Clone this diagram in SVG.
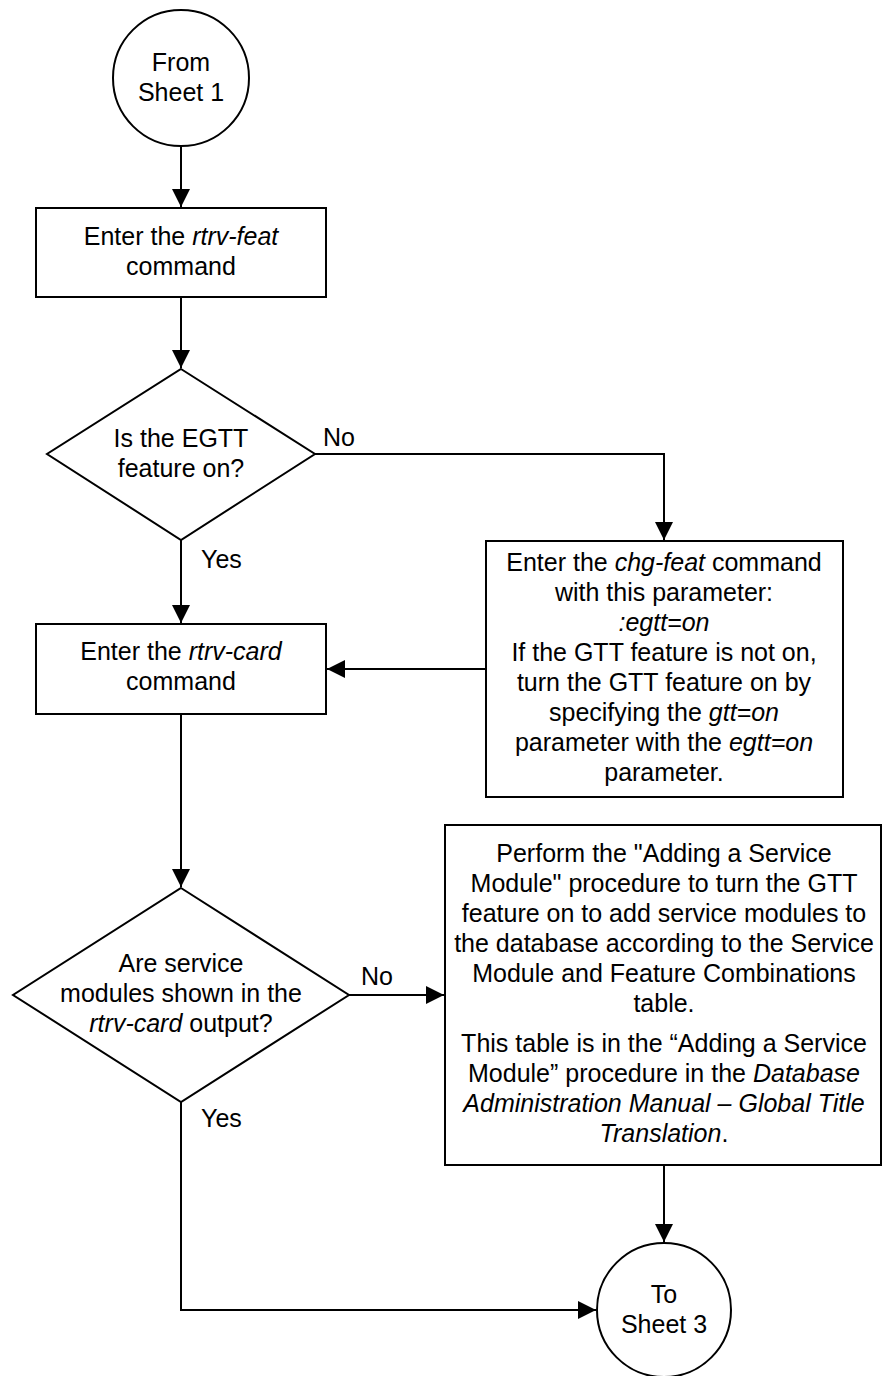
<svg xmlns="http://www.w3.org/2000/svg" width="882" height="1376" viewBox="0 0 882 1376">
<style>
.s{fill:#fff;stroke:#000;stroke-width:2}
.c{fill:none;stroke:#000;stroke-width:2}
text{font-family:"Liberation Sans",Arial,sans-serif;font-size:25px;fill:#000}
.m{text-anchor:middle}
.i{font-style:italic}
</style>
<defs>
<marker id="a" markerUnits="userSpaceOnUse" markerWidth="18" markerHeight="18" refX="18" refY="9" orient="auto">
<path d="M0,0 L18,9 L0,18 z" fill="#000"/>
</marker>
</defs>
<g id="connectors">
<path class="c" d="M181,146 V207" marker-end="url(#a)"/>
<path class="c" d="M181,297 V368" marker-end="url(#a)"/>
<path class="c" d="M315,454 H664 V540" marker-end="url(#a)"/>
<path class="c" d="M181,540 V623" marker-end="url(#a)"/>
<path class="c" d="M486,669 H327" marker-end="url(#a)"/>
<path class="c" d="M181,714 V887" marker-end="url(#a)"/>
<path class="c" d="M349,995 H444" marker-end="url(#a)"/>
<path class="c" d="M664,1165 V1242" marker-end="url(#a)"/>
<path class="c" d="M181,1102 V1310 H596" marker-end="url(#a)"/>
<text x="323" y="446">No</text>
<text x="201" y="568">Yes</text>
<text x="361" y="985">No</text>
<text x="201" y="1127">Yes</text>
</g>
<g id="start">
<circle class="s" cx="181" cy="78" r="68"/>
<text class="m" x="181" y="71">From</text>
<text class="m" x="181" y="101">Sheet 1</text>
</g>
<g id="box1">
<rect class="s" x="36" y="208" width="290" height="89"/>
<text class="m" x="181" y="245">Enter the <tspan class="i">rtrv-feat</tspan></text>
<text class="m" x="181" y="275">command</text>
</g>
<g id="decision1">
<polygon class="s" points="181,369 315,454 181,540 47,454"/>
<text class="m" x="181" y="447">Is the EGTT</text>
<text class="m" x="181" y="477">feature on?</text>
</g>
<g id="box3">
<rect class="s" x="486" y="541" width="357" height="256"/>
<text class="m" x="664" y="571">Enter the <tspan class="i">chg-feat</tspan> command</text>
<text class="m" x="664" y="601">with this parameter:</text>
<text class="m i" x="664" y="631">:egtt=on</text>
<text class="m" x="664" y="661">If the GTT feature is not on,</text>
<text class="m" x="664" y="691">turn the GTT feature on by</text>
<text class="m" x="664" y="721">specifying the <tspan class="i">gtt=on</tspan></text>
<text class="m" x="664" y="751">parameter with the <tspan class="i">egtt=on</tspan></text>
<text class="m" x="664" y="781">parameter.</text>
</g>
<g id="box2">
<rect class="s" x="36" y="624" width="290" height="90"/>
<text class="m" x="181" y="660">Enter the <tspan class="i">rtrv-card</tspan></text>
<text class="m" x="181" y="690">command</text>
</g>
<g id="decision2">
<polygon class="s" points="181,888 349,995 181,1102 13,995"/>
<text class="m" x="181" y="972">Are service</text>
<text class="m" x="181" y="1002">modules shown in the</text>
<text class="m" x="181" y="1032"><tspan class="i">rtrv-card</tspan> output?</text>
</g>
<g id="box4">
<rect class="s" x="445" y="825" width="436" height="340"/>
<text class="m" x="664" y="862">Perform the "Adding a Service</text>
<text class="m" x="664" y="892">Module" procedure to turn the GTT</text>
<text class="m" x="664" y="922">feature on to add service modules to</text>
<text class="m" x="664" y="952">the database according to the Service</text>
<text class="m" x="664" y="982">Module and Feature Combinations</text>
<text class="m" x="664" y="1012">table.</text>
<text class="m" x="664" y="1052">This table is in the “Adding a Service</text>
<text class="m" x="664" y="1082">Module” procedure in the <tspan class="i">Database</tspan></text>
<text class="m i" x="664" y="1112">Administration Manual – Global Title</text>
<text class="m" x="664" y="1142"><tspan class="i">Translation</tspan>.</text>
</g>
<g id="end">
<circle class="s" cx="664" cy="1310" r="67"/>
<text class="m" x="664" y="1303">To</text>
<text class="m" x="664" y="1333">Sheet 3</text>
</g>
</svg>
